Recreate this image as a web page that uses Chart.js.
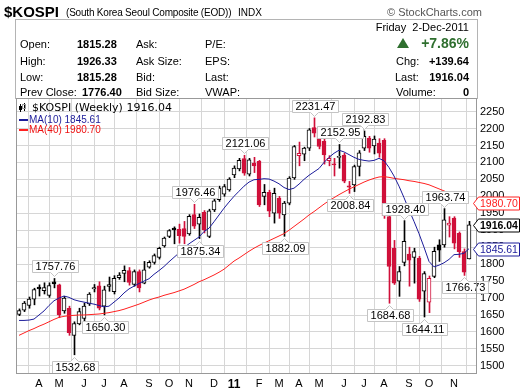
<!DOCTYPE html>
<html lang="en">
<head>
<meta charset="UTF-8">
<title>$KOSPI Weekly</title>
<script src="https://cdn.jsdelivr.net/npm/chart.js@4"></script>
<style>
  body { margin: 0; background: #fff; }
  #wrap { position: relative; width: 520px; height: 391px; overflow: hidden;
          font-family: "Liberation Sans", Arial, sans-serif; color: #000; }
  #wrap canvas { position: absolute; left: 0; top: 0; }
  .t { position: absolute; white-space: nowrap; font-size: 11px; line-height: 12px; }
  .b { font-weight: bold; font-size: 11px; }
  .r { text-align: right; }
  #box { position: absolute; left: 15px; top: 19px; width: 461px; height: 79px; border: 1px solid #b4b4b4; border-bottom: none; }
</style>
</head>
<body>
<div id="wrap">
  <canvas id="kospi" width="520" height="391"></canvas>

  <div class="t b" style="left:4px;top:3px;font-size:15px;line-height:17px">$KOSPI</div>
  <div class="t" style="left:66px;top:6px;font-size:10px;line-height:13px;letter-spacing:-0.2px">(South Korea Seoul Composite (EOD))</div>
  <div class="t" style="left:238px;top:6px;font-size:10px;line-height:13px">INDX</div>
  <div class="t" style="left:387px;top:6px;font-size:11px;line-height:13px;color:#555">&copy; StockCharts.com</div>

  <div id="box"></div>
  <div class="t r" style="right:51px;top:21px;line-height:13px">Friday&nbsp; 2-Dec-2011</div>
  <div id="tri" style="position:absolute;left:397px;top:38px;width:0;height:0;border-left:6px solid transparent;border-right:6px solid transparent;border-bottom:10px solid #2f6f2f"></div>
  <div class="t b r" style="right:51px;top:35px;font-size:14px;line-height:17px;color:#2f6f2f">+7.86%</div>

  <div class="t" style="left:20px;top:38px">Open:</div>
  <div class="t b" style="left:77px;top:38px">1815.28</div>
  <div class="t" style="left:136px;top:38px">Ask:</div>
  <div class="t" style="left:205px;top:38px">P/E:</div>

  <div class="t" style="left:20px;top:55px">High:</div>
  <div class="t b" style="left:77px;top:55px">1926.33</div>
  <div class="t" style="left:136px;top:55px">Ask Size:</div>
  <div class="t" style="left:205px;top:55px">EPS:</div>
  <div class="t" style="left:396px;top:55px">Chg:</div>
  <div class="t b r" style="right:51px;top:55px">+139.64</div>

  <div class="t" style="left:20px;top:71px">Low:</div>
  <div class="t b" style="left:77px;top:71px">1815.28</div>
  <div class="t" style="left:136px;top:71px">Bid:</div>
  <div class="t" style="left:205px;top:71px">Last:</div>
  <div class="t" style="left:395px;top:71px">Last:</div>
  <div class="t b r" style="right:51px;top:71px">1916.04</div>

  <div class="t" style="left:20px;top:86px">Prev Close:</div>
  <div class="t b" style="left:82px;top:86px">1776.40</div>
  <div class="t" style="left:136px;top:86px">Bid Size:</div>
  <div class="t" style="left:205px;top:86px">VWAP:</div>
  <div class="t" style="left:396px;top:86px">Volume:</div>
  <div class="t b r" style="right:51px;top:86px">0</div>

  <div class="t" style="left:32px;top:101px;font-family:'DejaVu Sans',sans-serif;font-size:11px;line-height:13px">$KOSPI (Weekly) 1916.04</div>
  <div class="t" style="left:29px;top:114px;font-size:10px;color:#1c1c9a">MA(10) 1845.61</div>
  <div class="t" style="left:29px;top:124px;font-size:10px;color:#ee1111">MA(40) 1980.70</div>
</div>

<script>
// weekly bars, week of 8-Mar-2010 .. week of 28-Nov-2011
const open = [1652, 1664, 1678, 1697, 1732, 1722, 1708, 1748, 1739, 1662,
  1670, 1590, 1624, 1640, 1683, 1727, 1736, 1676, 1734, 1719,
  1760, 1773, 1781, 1740, 1778, 1744, 1791, 1805, 1820, 1854,
  1882, 1906, 1903, 1905, 1889, 1946, 1918, 1953, 1882, 1960,
  1990, 2006, 2019, 2063, 2081, 2111, 2065, 2098, 2103, 2000,
  2012, 1950, 1995, 1945, 1980, 2054, 2120, 2124, 2142, 2203,
  2201, 2162, 2105, 2096, 2115, 2122, 2031, 2034, 2088, 2142,
  2172, 2149, 2157, 2165, 1940, 1847, 1750, 1805, 1830, 1820,
  1818, 1720, 1688, 1764, 1857, 1857, 1915, 1936, 1891, 1837,
  1815.28];
const high = [1668, 1690, 1703, 1729, 1739, 1745, 1745, 1757.76, 1741, 1705,
  1676, 1630, 1670, 1685, 1716, 1740, 1748, 1735, 1762, 1766,
  1775, 1795, 1790, 1783, 1783, 1808, 1810, 1830, 1850, 1880,
  1902, 1910, 1918, 1926, 1946, 1976.46, 1948, 1958, 1962, 1992,
  2030, 2035, 2055, 2090, 2112, 2121.06, 2112, 2115, 2106, 2035,
  2018, 2024, 2000, 1985, 2058, 2150, 2160, 2145, 2200, 2231.47,
  2205, 2170, 2120, 2112, 2152.95, 2127, 2044, 2092, 2135, 2192.83,
  2177, 2178, 2170, 2170, 1948, 1870, 1793, 1928.40, 1850, 1847,
  1823, 1778, 1765, 1850, 1872, 1963.74, 1940, 1940, 1895, 1845,
  1926.33];
const low = [1648, 1660, 1670, 1680, 1706, 1712, 1702, 1730, 1642, 1655,
  1590, 1532.68, 1621, 1630, 1678, 1718, 1665, 1650.30, 1720, 1712,
  1755, 1748, 1738, 1735, 1718, 1742, 1788, 1800, 1815, 1850,
  1878, 1860, 1862, 1860, 1885, 1905, 1875.34, 1892, 1878, 1955,
  1985, 2000, 2015, 2055, 2075, 2062, 2060, 2070, 1970, 1975,
  1940, 1921, 1935, 1882.09, 1975, 2050, 2090, 2105, 2135, 2175,
  2140, 2095, 2090, 2060, 2083, 2040, 2008.84, 2014, 2060, 2135,
  2130, 2125, 2115, 1935, 1684.68, 1740, 1705, 1795, 1735, 1744,
  1690, 1644.11, 1657, 1760, 1808, 1850, 1880, 1845, 1820, 1766.73,
  1815.28];
const close = [1663, 1685, 1697, 1725, 1727, 1731, 1737, 1742, 1650, 1700,
  1598, 1625, 1660, 1676, 1712, 1731, 1670, 1724, 1740, 1758,
  1768, 1782, 1746, 1778, 1730, 1783, 1805, 1825, 1847, 1877,
  1899, 1901, 1884, 1882, 1941, 1912, 1938, 1901, 1957, 1987,
  2024, 2029, 2051, 2083, 2106, 2068, 2108, 2090, 1975, 2012,
  1956, 2009, 1950, 1980, 2054, 2147, 2127, 2142, 2196, 2186,
  2147, 2122, 2112, 2093, 2118, 2045, 2027, 2088, 2128, 2177,
  2142, 2169, 2127, 1943, 1793, 1744, 1778, 1867, 1812, 1837,
  1697, 1772, 1758, 1838, 1841, 1931, 1921, 1862, 1837, 1776.40,
  1916.04];
const ma10 = [1634, 1634, 1635, 1638, 1650, 1662, 1678, 1692, 1700, 1706,
  1702, 1695, 1691, 1688, 1685, 1682, 1678, 1674, 1676, 1688,
  1700, 1715, 1727, 1735, 1743, 1750, 1757, 1770, 1781, 1793,
  1807, 1820, 1833, 1848, 1860, 1870, 1880, 1896, 1906, 1925,
  1945, 1965, 1983, 2000, 2015, 2030, 2042, 2049, 2050, 2052,
  2051, 2045, 2037, 2026, 2020, 2024, 2036, 2050, 2062, 2072,
  2082, 2100, 2115, 2127, 2136, 2131, 2123, 2115, 2109, 2106,
  2104, 2106, 2112, 2105, 2085, 2060, 2030, 1996, 1960, 1926,
  1890, 1850, 1808, 1792, 1797, 1804, 1814, 1828, 1829, 1832,
  1845.61];
const ma40 = [1590, 1597, 1604, 1610, 1617, 1623, 1630, 1637, 1643, 1646,
  1648, 1649, 1650, 1650, 1651, 1652, 1653, 1655, 1657, 1660,
  1663, 1667, 1672, 1677, 1682, 1688, 1694, 1699, 1703, 1708,
  1712, 1716, 1721, 1726, 1733, 1740, 1748, 1754, 1761, 1768,
  1776, 1785, 1797, 1809, 1818, 1828, 1838, 1847, 1855, 1862,
  1869, 1876, 1883, 1890, 1900, 1911, 1922, 1933, 1945, 1955,
  1966, 1977, 1987, 1996, 2005, 2013, 2021, 2028, 2035, 2042,
  2048, 2053, 2057, 2058, 2056, 2053, 2051, 2049, 2046, 2044,
  2041, 2038, 2034, 2028, 2022, 2016, 2010, 2000, 1990, 1983,
  1980.70];

// x axis: index of first weekly bar in each month, and its label
const monthIdx = [4, 8, 13, 17, 21, 26, 30, 34, 39, 43, 48, 52, 56, 60, 65, 69, 73, 78, 82, 87];
const monthLabels = ['A', 'M', 'J', 'J', 'A', 'S', 'O', 'N', 'D', '11', 'F', 'M', 'A', 'M', 'J', 'J', 'A', 'S', 'O', 'N'];
const yTicks = [1500, 1550, 1600, 1650, 1700, 1750, 1800, 1850, 1900, 1950, 2000, 2050, 2100, 2150, 2200, 2250];

// high/low callouts: bar index and which end
const noteIdx = [7, 11, 17, 35, 36, 45, 53, 59, 64, 66, 69, 74, 77, 81, 85, 89];
const noteSide = ['H', 'L', 'L', 'H', 'L', 'H', 'L', 'H', 'H', 'L', 'H', 'L', 'H', 'L', 'H', 'L'];

const RED = '#d0103a', BLACK = '#000', BLUE = '#1c1c9a', MARED = '#ff2020';
const FONT = '"Liberation Sans", Arial, sans-serif';

const isRed = i => i > 0 && close[i] < close[i - 1];
const barColor = i => isRed(i) ? RED : BLACK;

const bodies = open.map((o, i) => ({ x: i, y: [o, close[i]] }));
const wicks = low.map((l, i) => ({ x: i, y: [l, high[i]] }));

const chartBox = {
  id: 'chartBox',
  afterDatasetsDraw(chart) {
    const { ctx, chartArea: a, scales: { x, y } } = chart;
    ctx.save();
    // callouts
    ctx.font = '11px ' + FONT;
    ctx.textAlign = 'center';
    ctx.textBaseline = 'middle';
    noteIdx.forEach((i, k) => {
      const up = noteSide[k] === 'H';
      const v = up ? high[i] : low[i];
      const px = Math.round(x.getPixelForValue(i)) + 0.5;
      const py = Math.round(y.getPixelForValue(v));
      const txt = v.toFixed(2);
      const w = Math.round(ctx.measureText(txt).width) + 6, h = 12;
      const bx = Math.round(px - w / 2) + 0.5;
      const by = up ? py - 6 - h + 0.5 : py + 6 + 0.5;
      ctx.fillStyle = '#fff';
      ctx.strokeStyle = '#c4c4c4';
      ctx.lineWidth = 1;
      ctx.beginPath();
      if (up) {
        ctx.moveTo(bx, by); ctx.lineTo(bx + w, by); ctx.lineTo(bx + w, by + h);
        ctx.lineTo(px + 4, by + h); ctx.lineTo(px, by + h + 4); ctx.lineTo(px - 4, by + h);
        ctx.lineTo(bx, by + h);
      } else {
        ctx.moveTo(bx, by); ctx.lineTo(px - 4, by); ctx.lineTo(px, by - 4); ctx.lineTo(px + 4, by);
        ctx.lineTo(bx + w, by); ctx.lineTo(bx + w, by + h); ctx.lineTo(bx, by + h);
      }
      ctx.closePath();
      ctx.fill();
      ctx.stroke();
      ctx.fillStyle = '#000';
      ctx.fillText(txt, bx + w / 2, by + h / 2 + 0.5);
    });
    // plot frame
    ctx.strokeStyle = '#999';
    ctx.strokeRect(a.left + 0.5, a.top + 0.5, a.right - a.left - 1, a.bottom - a.top - 1);
    // legend marks
    ctx.fillStyle = '#000';
    ctx.fillRect(20, 104, 1, 8); ctx.fillRect(19, 106, 3, 4);
    ctx.fillRect(24, 103, 1, 8); ctx.strokeRect(22.5, 104.5, 3, 4);
    ctx.fillStyle = BLUE; ctx.fillRect(19, 119, 9, 2);
    ctx.fillStyle = MARED; ctx.fillRect(19, 129, 9, 2);
    ctx.restore();
  },
  afterDraw(chart) {
    const { ctx, scales: { y } } = chart;
    const n = close.length - 1;
    const tags = [
      { v: ma40[n], color: MARED, text: MARED, bold: false },
      { v: close[n], color: '#000', text: '#000', bold: true },
      { v: ma10[n], color: BLUE, text: BLUE, bold: false }
    ];
    ctx.save();
    ctx.textAlign = 'left';
    ctx.textBaseline = 'middle';
    tags.forEach(t => {
      const cy = Math.round(y.getPixelForValue(t.v)) + 0.5;
      const h = 13, x0 = 473.5, x1 = 478.5, x2 = 519.5;
      ctx.beginPath();
      ctx.moveTo(x0, cy); ctx.lineTo(x1, cy - h / 2); ctx.lineTo(x2, cy - h / 2);
      ctx.lineTo(x2, cy + h / 2); ctx.lineTo(x1, cy + h / 2); ctx.closePath();
      ctx.fillStyle = '#fff';
      ctx.fill();
      ctx.strokeStyle = t.color;
      ctx.lineWidth = 1;
      ctx.stroke();
      ctx.fillStyle = t.text;
      ctx.font = (t.bold ? 'bold ' : '') + '10.5px ' + FONT;
      ctx.fillText(t.v.toFixed(2), 480, cy + 0.5);
    });
    ctx.restore();
  }
};

new Chart(document.getElementById('kospi'), {
  type: 'bar',
  data: {
    datasets: [
      {
        type: 'line', data: ma10.map((v, i) => ({ x: i, y: v })), borderColor: BLUE,
        borderWidth: 1, pointRadius: 0, tension: 0, order: 0
      },
      {
        type: 'line', data: ma40.map((v, i) => ({ x: i, y: v })), borderColor: MARED,
        borderWidth: 1, pointRadius: 0, tension: 0, order: 0
      },
      {
        data: bodies, order: 1, grouped: false, barThickness: 4, minBarLength: 1,
        borderSkipped: false, borderWidth: 1,
        borderColor: bodies.map((b, i) => barColor(i)),
        backgroundColor: bodies.map((b, i) => close[i] < open[i] ? barColor(i) : '#fff')
      },
      {
        data: wicks, order: 2, grouped: false, barThickness: 1, xAxisID: 'xw',
        borderWidth: 0, backgroundColor: wicks.map((w, i) => barColor(i))
      }
    ]
  },
  options: {
    responsive: false,
    animation: false,
    devicePixelRatio: 1,
    layout: { padding: { left: 16, top: 98, right: 0, bottom: 0 } },
    plugins: { legend: { display: false }, tooltip: { enabled: false } },
    scales: {
      x: {
        type: 'linear', min: -0.6, max: 91.6, offset: false,
        afterBuildTicks: s => { s.ticks = monthIdx.map(v => ({ value: v })); },
        afterFit: s => { s.height = 17; },
        grid: { color: '#d6d6d6', drawTicks: false },
        border: { display: false },
        ticks: {
          autoSkip: false, maxRotation: 0, padding: 3, color: '#000',
          font: c => ({ family: FONT, size: c.tick && c.tick.value === 43 ? 12 : 11, weight: c.tick && c.tick.value === 43 ? 'bold' : 'normal' }),
          callback: v => monthLabels[monthIdx.indexOf(v)]
        }
      },
      xw: {
        type: 'linear', min: -0.7, max: 91.5, offset: false, display: false
      },
      y: {
        position: 'right', min: 1476, max: 2290,
        afterBuildTicks: s => { s.ticks = yTicks.map(v => ({ value: v })); },
        afterFit: s => { s.width = 43; },
        grid: { color: '#d6d6d6', drawTicks: false },
        border: { display: false },
        ticks: { padding: 3, color: '#000', font: { family: FONT, size: 11 }, callback: v => String(v) }
      }
    }
  },
  plugins: [chartBox]
});
</script>
</body>
</html>
